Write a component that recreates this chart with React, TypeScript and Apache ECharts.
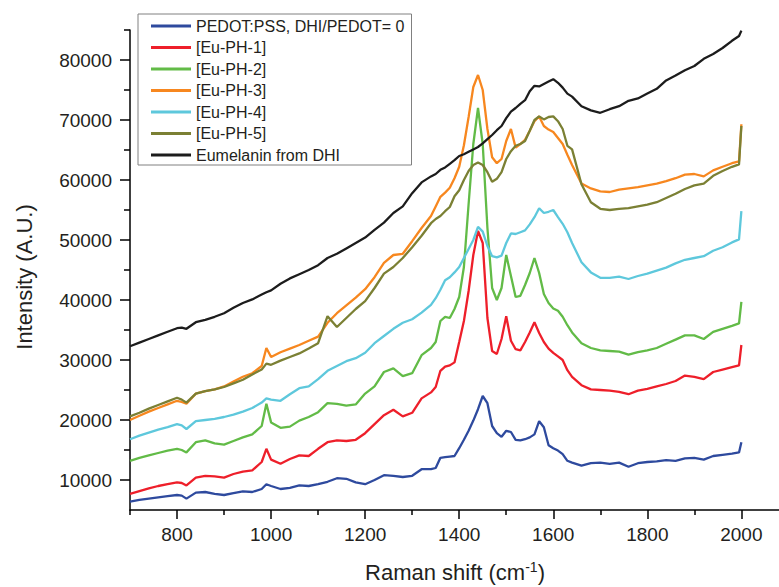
import React, { useEffect, useRef } from "react";
import * as echarts from "echarts";

const ramanShift = [
  700, 720, 740, 760, 780, 800, 810, 820, 840, 860, 880, 900, 920, 940, 960, 980, 990, 1000,
  1020, 1040, 1060, 1080, 1100, 1120, 1140, 1160, 1180, 1200, 1220, 1240, 1260, 1280, 1300, 1320, 1340,
  1350, 1360, 1370, 1380, 1390, 1400, 1410, 1420, 1430, 1440, 1450, 1460, 1470, 1480, 1490, 1500,
  1510, 1520, 1530, 1540, 1550, 1560, 1570, 1580, 1590, 1600, 1610, 1620, 1630, 1640,
  1660, 1680, 1700, 1720, 1740, 1760, 1780, 1800, 1820, 1840, 1860, 1880, 1900, 1920, 1940, 1960, 1980,
  1995, 2000,
];

const pedot = [
  6400, 6700, 6900, 7100, 7300, 7500, 7400, 6900, 7900, 8000, 7700, 7500, 7800, 8100, 8000, 8500, 9300, 9000,
  8500, 8700, 9100, 9000, 9300, 9700, 10300, 10200, 9600, 9300, 10000, 10800, 10700, 10500, 10700, 11800, 11800,
  12000, 13700, 13800, 13900, 14000, 15300, 16700, 18200, 19900, 21800, 24000, 22800, 19000, 17800, 17200, 18200,
  18000, 16700, 16600, 16800, 17100, 17600, 19800, 18800, 15800, 15300, 14900, 14300, 13200, 12900,
  12400, 12800, 12900, 12700, 12900, 12200, 12800, 13000, 13100, 13300, 13200, 13600, 13700, 13400, 14000, 14200, 14400,
  14600, 16300,
];

const euPh1 = [
  7700, 8150, 8600, 9000, 9300, 9600, 9500, 9100, 10400, 10700, 10600, 10400, 11000, 11400, 11600, 13000, 15200, 13400,
  12700, 13500, 14100, 14000, 15200, 16300, 16600, 16500, 16700, 17800, 19300, 20800, 21700, 20600, 21200, 23600, 24600,
  25500, 28200, 28900, 29100, 29600, 33000, 36500, 41500, 47500, 51500, 49500, 37000, 31500, 31000, 33500, 37300,
  33200, 31800, 31600, 33000, 34600, 36300, 34500, 33000, 31900, 31200, 30600, 30000, 28300, 27200,
  25800, 25100, 25000, 24900, 24700, 24300, 24900, 25200, 25600, 26000, 26500, 27400, 27200, 26800, 28000, 28400, 28800,
  29100, 32500,
];

const euPh2 = [
  13200, 13700, 14100, 14500, 14900, 15200, 15000, 14600, 16300, 16600, 16100, 15900, 16500, 17100, 17600, 19000, 22700, 19600,
  18700, 18900, 19900, 20500, 21300, 22800, 22700, 22400, 22600, 24400, 25600, 28000, 28600, 27300, 27800, 30800, 32000,
  33000, 36500, 37200, 37000, 38500, 40500, 45500, 56000, 66000, 72000, 66000, 52000, 42000, 40000, 42000, 47500,
  44000, 40500, 40700, 42500, 44500, 47000, 44500, 41000, 39500, 38600, 38200, 37200, 35800, 34600,
  32800, 32000, 31600, 31500, 31400, 30900, 31300, 31600, 32000, 32700, 33400, 34100, 34100, 33500, 34700, 35200, 35700,
  36100, 39700,
];

const euPh3 = [
  20000, 20700, 21400, 22000, 22600, 23200, 23000, 22700, 24400, 24800, 25100, 25600, 26400, 27200, 27800, 29000, 32000, 30500,
  31300, 31900, 32500, 33200, 33900, 36200, 37800, 39100, 40400, 41800, 43800, 46200, 47500, 47700, 49800, 52000, 54000,
  55600, 57200, 57900, 58700, 60300, 62200, 65800, 70500, 75500, 77500, 75000, 68500, 63800, 62800, 63500, 66500,
  68500, 65400, 66000, 66700, 68200, 69800, 70600, 69000, 68400, 68000, 67000, 66000, 64200, 62500,
  59400, 58600, 58100, 58000, 58400, 58600, 58800, 59100, 59400, 59800, 60300, 60900, 61000, 60600, 61600, 62200, 62800,
  63100, 69300,
];

const euPh4 = [
  16800, 17400, 17900, 18400, 18800, 19300, 19100, 18500, 19800, 20000, 20200, 20500, 20900, 21400, 22000, 22900, 23600, 23400,
  23200, 24300, 25300, 25600, 26800, 28200, 29000, 29800, 30300, 31200, 32800, 34000, 35200, 36200, 36800, 37900, 39200,
  40300, 41700, 43300, 43800, 44600, 45500, 47000, 48500, 50000, 52200, 51400, 49000, 47300, 47100, 47400, 49500,
  51100, 51000, 51300, 51600, 52600, 53800, 55300, 54500, 54700, 55000, 53800, 52700, 51300, 49500,
  46300, 44600, 43700, 43700, 43900, 43500, 44000, 44400, 44900, 45400, 46100, 46700, 47000, 47300, 48200, 48800, 49600,
  50100, 54800,
];

const euPh5 = [
  20600, 21200, 21900, 22500, 23100, 23700, 23400, 22900, 24400, 24800, 25100, 25500, 26100, 26700, 27600, 28400, 29400, 29200,
  29900, 30500, 31100, 31900, 32800, 37300, 35500, 37000, 38500, 39800, 42000, 44400, 45500, 47000, 48800, 50700, 52800,
  53500, 54000, 54800, 55500, 57300, 58300, 60000, 61500, 62500, 62900, 62500, 61300, 59700, 60200, 61300, 63500,
  64800, 65700, 66000, 66500, 68200, 70000, 70600, 70100, 70500, 70600, 69800, 68500, 65700, 65100,
  59300, 56300, 55200, 55000, 55200, 55300, 55600, 55900, 56300, 57000, 57700, 58500, 59100, 59400, 60700, 61500, 62200,
  62600, 69000,
];

const eumelanin = [
  32300, 32900, 33500, 34100, 34700, 35300, 35400, 35200, 36300, 36700, 37200, 37800, 38700, 39500, 40100, 40900, 41300, 41600,
  42700, 43600, 44300, 45000, 45800, 47000, 47700, 48600, 49500, 50400, 51700, 52900, 54500, 55600, 57800, 59600, 60600,
  61000, 61700, 62100, 62700, 63300, 64000, 64300, 64700, 65100, 65500, 66100, 66800, 67500, 68300, 69000, 70300,
  71400, 72000, 72700, 73300, 74800, 75700, 75600, 76000, 76400, 76800, 76200, 75400, 74400, 73900,
  72300, 71600, 71200, 71800, 72300, 73200, 73600, 74400, 75200, 76600, 77400, 78300, 79000, 80200, 81000, 82000, 83200,
  84000, 84900,
];

const seriesNames = [
  "PEDOT:PSS, DHI/PEDOT= 0",
  "[Eu-PH-1]",
  "[Eu-PH-2]",
  "[Eu-PH-3]",
  "[Eu-PH-4]",
  "[Eu-PH-5]",
  "Eumelanin from DHI",
];
const seriesValues = [pedot, euPh1, euPh2, euPh3, euPh4, euPh5, eumelanin];
const seriesColors = ["#2e4a9e", "#ee1f2a", "#62bb47", "#f7871f", "#5ec8dc", "#7b8034", "#1c1c1c"];

const xMajorTicks = [800, 1000, 1200, 1400, 1600, 1800, 2000];
const xMinorTicks = [700, 900, 1100, 1300, 1500, 1700, 1900];
const yMajorTicks = [10000, 20000, 30000, 40000, 50000, 60000, 70000, 80000];
const yMinorTicks = [15000, 25000, 35000, 45000, 55000, 65000, 75000, 85000];

const FONT = "'Liberation Sans', Arial, Helvetica, sans-serif";
const TEXT = "#231f20";

export default function App() {
  const ref = useRef<HTMLDivElement>(null);

  useEffect(() => {
    if (!ref.current) return;
    const chart = echarts.init(ref.current, null, { renderer: "svg" });
    const xBase = { type: "value", min: 700, max: 2080, gridIndex: 0, position: "bottom" };
    const yBase = { type: "value", min: 5000, max: 85000, gridIndex: 0, position: "left" };
    const plain = (v: number) => String(v);
    const option: any = {
      animation: false,
      backgroundColor: "#ffffff",
      grid: { left: 130, right: 0, top: 30, bottom: 77, containLabel: false },
      legend: {
        orient: "vertical",
        left: 138,
        top: 14,
        padding: [3, 7, 1, 13],
        itemGap: 3.5,
        itemWidth: 40,
        itemHeight: 3,
        icon: "rect",
        borderColor: "#808080",
        borderWidth: 1,
        data: seriesNames,
        textStyle: { fontFamily: FONT, fontSize: 16, color: TEXT, lineHeight: 18 },
      },
      xAxis: [
        {
          ...xBase,
          axisLine: { show: true, onZero: false, lineStyle: { color: "#000", width: 1.5 } },
          axisTick: { show: true, inside: false, length: 9, customValues: xMajorTicks, lineStyle: { color: "#000", width: 1.5 } },
          axisLabel: { show: true, margin: 15, customValues: xMajorTicks, formatter: plain, fontFamily: FONT, fontSize: 19, color: TEXT },
          splitLine: { show: false },
        },
        {
          ...xBase,
          axisLine: { show: false, onZero: false },
          axisTick: { show: true, inside: false, length: 5, customValues: xMinorTicks, lineStyle: { color: "#000", width: 1.5 } },
          axisLabel: { show: false },
          splitLine: { show: false },
        },
      ],
      yAxis: [
        {
          ...yBase,
          axisLine: { show: true, onZero: false, lineStyle: { color: "#000", width: 1.5 } },
          axisTick: { show: true, inside: false, length: 10, customValues: yMajorTicks, lineStyle: { color: "#000", width: 1.5 } },
          axisLabel: { show: true, margin: 18, customValues: yMajorTicks, formatter: plain, fontFamily: FONT, fontSize: 19, color: TEXT },
          splitLine: { show: false },
        },
        {
          ...yBase,
          axisLine: { show: false, onZero: false },
          axisTick: { show: true, inside: false, length: 6, customValues: yMinorTicks, lineStyle: { color: "#000", width: 1.5 } },
          axisLabel: { show: false },
          splitLine: { show: false },
        },
      ],
      graphic: [
        {
          type: "text",
          x: 24,
          y: 277,
          rotation: Math.PI / 2,
          style: {
            text: "Intensity (A.U.)",
            font: `22px ${FONT}`,
            fill: TEXT,
            align: "center",
            verticalAlign: "middle",
          },
        },
        {
          type: "text",
          x: 455,
          y: 572,
          style: {
            text: "Raman shift (cm{sup|-1})",
            font: `22px ${FONT}`,
            fill: TEXT,
            align: "center",
            verticalAlign: "middle",
            rich: {
              sup: { fontSize: 14, fontFamily: FONT, fill: TEXT, verticalAlign: "top", padding: [0, 0, 10, 0] },
            },
          },
        },
      ],
      series: seriesNames.map((name, i) => ({
        name,
        type: "line",
        xAxisIndex: 0,
        yAxisIndex: 0,
        showSymbol: false,
        symbol: "none",
        color: seriesColors[i],
        lineStyle: { width: 2.3, color: seriesColors[i] },
        data: ramanShift.map((x, k) => [x, seriesValues[i][k]]),
      })),
    };
    chart.setOption(option);
    return () => chart.dispose();
  }, []);

  return (
    <div
      ref={ref}
      style={{ position: "fixed", left: 0, top: 0, width: 779, height: 587, background: "#fff" }}
    />
  );
}
